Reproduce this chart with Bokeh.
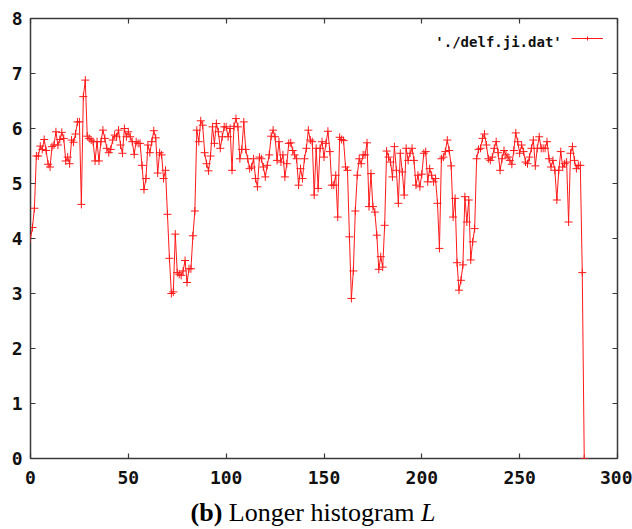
from bokeh.plotting import figure
from bokeh.models import Range1d, LinearAxis, FixedTicker, Label, Legend, LegendItem, Div
from bokeh.layouts import column
from bokeh.embed import file_html
from bokeh.resources import INLINE
from bokeh.core.properties import value

# values (one per histogram bin, starting at bin 0)
delf_ji = [
    4.0, 4.2, 4.55, 5.5, 5.5, 5.68, 5.62, 5.8, 5.6, 5.35,
    5.3, 5.67, 5.7, 5.94, 5.7, 5.8, 5.93, 5.82, 5.41, 5.48,
    5.36, 5.79, 5.75, 5.9, 6.12, 6.12, 4.62, 6.58, 6.88, 5.86,
    5.82, 5.79, 5.76, 5.41, 5.76, 5.41, 5.76, 5.97, 5.82, 5.64,
    5.56, 5.62, 5.79, 5.88, 5.85, 5.97, 5.7, 5.55, 6.0, 5.85,
    5.94, 5.85, 5.76, 5.53, 5.76, 5.73, 5.73, 5.33, 4.89, 5.09,
    5.7, 5.56, 5.76, 5.96, 5.83, 5.19, 5.56, 5.52, 5.09, 5.24,
    4.44, 3.64, 3.0, 3.03, 4.08, 3.38, 3.35, 3.33, 3.41, 3.6,
    3.2, 3.45, 3.45, 4.05, 4.5, 5.97, 5.76, 6.14, 6.06, 5.56,
    5.36, 5.23, 5.5, 6.03, 5.73, 6.09, 5.94, 5.64, 5.85, 6.03,
    6.03, 5.85, 6.0, 5.24, 6.04, 6.18, 6.03, 5.45, 5.62, 6.12,
    5.62, 5.45, 5.27, 5.3, 5.45, 5.09, 4.94, 5.48, 5.45, 5.3,
    5.12, 5.33, 5.52, 5.86, 5.97, 5.85, 5.42, 5.76, 5.39, 5.52,
    5.12, 5.36, 5.73, 5.74, 5.6, 5.52, 5.45, 4.97, 5.27, 5.09,
    5.45, 5.64, 5.97, 5.79, 5.76, 4.79, 5.64, 4.91, 5.64, 5.76,
    5.48, 5.73, 5.95, 5.58, 4.97, 4.97, 5.15, 4.39, 5.84, 5.8,
    5.78, 5.3, 5.24, 4.03, 2.91, 3.41, 4.5, 5.15, 5.45, 5.36,
    5.52, 5.52, 5.74, 4.58, 5.18, 4.58, 4.48, 4.06, 3.44, 3.67,
    3.48, 4.24, 5.59, 5.48, 5.39, 5.12, 5.67, 5.24, 4.64, 5.55,
    5.21, 4.79, 5.64, 5.42, 5.55, 5.64, 5.42, 4.97, 5.15, 4.94,
    5.17, 5.55, 5.58, 5.03, 5.27, 5.15, 5.03, 5.09, 4.64, 3.82,
    5.45, 5.48, 5.58, 5.79, 5.6, 5.32, 4.39, 4.73, 3.56, 3.06,
    3.24, 3.52, 4.76, 4.3, 4.7, 3.61, 3.94, 4.18, 5.45, 5.62,
    5.64, 5.82, 5.9, 5.7, 5.45, 5.42, 5.48, 5.64, 5.76, 5.56,
    5.24, 5.45, 5.6, 5.52, 5.48, 5.42, 5.35, 5.6, 5.92, 5.76,
    5.55, 5.7, 5.58, 5.39, 5.36, 5.48, 5.64, 5.79, 5.32, 5.64,
    5.85, 5.64, 5.64, 5.64, 5.76, 5.45, 5.3, 5.42, 5.24, 4.7,
    5.24, 5.58, 5.3, 5.36, 5.39, 4.3, 5.55, 5.67, 5.42, 5.27,
    5.33, 5.33, 3.38, 0.0,
]
bins = list(range(len(delf_ji)))

x_ticks = [0, 50, 100, 150, 200, 250, 300]
y_ticks = [0, 1, 2, 3, 4, 5, 6, 7, 8]
legend_text = "'./delf.ji.dat'"
caption_bold = "(b)"
caption_plain = "Longer histogram"
caption_italic = "L"

RED = "#ff1a1a"
FRAME = "#3a3a3a"

p = figure(width=632, height=494, output_backend="svg", toolbar_location=None,
           x_range=Range1d(0, 300), y_range=Range1d(0, 8),
           min_border_left=30, min_border_right=15,
           min_border_top=18, min_border_bottom=36,
           x_axis_location=None, y_axis_location=None)
p.xgrid.visible = False
p.ygrid.visible = False
p.outline_line_color = FRAME
p.outline_line_width = 1.5
p.background_fill_color = "white"
p.border_fill_color = "white"


def make_axis(ticks, labels):
    ax = LinearAxis(ticker=FixedTicker(ticks=ticks))
    ax.axis_line_color = None
    ax.major_tick_in = 5
    ax.major_tick_out = 0
    ax.major_tick_line_color = FRAME
    ax.major_tick_line_width = 1.2
    ax.minor_tick_line_color = None
    if labels:
        ax.major_label_text_font = "DejaVu Sans Mono"
        ax.major_label_text_font_style = "bold"
        ax.major_label_text_font_size = "18px"
        ax.major_label_text_color = "#111111"
    else:
        ax.major_label_overrides = {t: "" for t in ticks}
        ax.major_label_standoff = 0
    return ax


bottom = make_axis(x_ticks, True)
bottom.major_label_standoff = 12
left = make_axis(y_ticks, True)
left.major_label_standoff = 8
p.add_layout(bottom, "below")
p.add_layout(left, "left")
p.add_layout(make_axis(x_ticks, False), "above")
p.add_layout(make_axis(y_ticks, False), "right")

line_r = p.line(bins, delf_ji, line_color=RED, line_width=1)
mark_r = p.scatter(bins, delf_ji, marker="cross", size=8, line_color=RED, line_width=1)

# key sample (gnuplot style: text on the left, sample on the right)
key = Legend(items=[LegendItem(label=value(" "), renderers=[line_r, mark_r])],
             location=(541, 415), orientation="vertical",
             padding=0, margin=0, spacing=0, label_standoff=0,
             label_width=0, label_height=10, glyph_width=32, glyph_height=10,
             label_text_font_size="1px",
             border_line_color=None, background_fill_alpha=0)
p.add_layout(key)

p.add_layout(Label(x=271.5, y=7.57, text=legend_text, text_align="right",
                   text_baseline="alphabetic", text_font="DejaVu Sans Mono",
                   text_font_style="bold", text_font_size="14px", text_color="#111111"))

# caption below the plot
caption = Div(
    text=f"<b>{caption_bold}</b> {caption_plain} <i>{caption_italic}</i>",
    width=632, height=35, margin=(0, 0, 0, 0),
    styles={"font-family": "Liberation Serif", "font-size": "26px",
            "line-height": "26px", "text-align": "center", "color": "black",
            "padding-top": "6px", "padding-right": "6px", "width": "632px",
            "box-sizing": "border-box"},
)

layout = column(p, caption, spacing=0)
open("out.html", "w").write(file_html(layout, INLINE))
